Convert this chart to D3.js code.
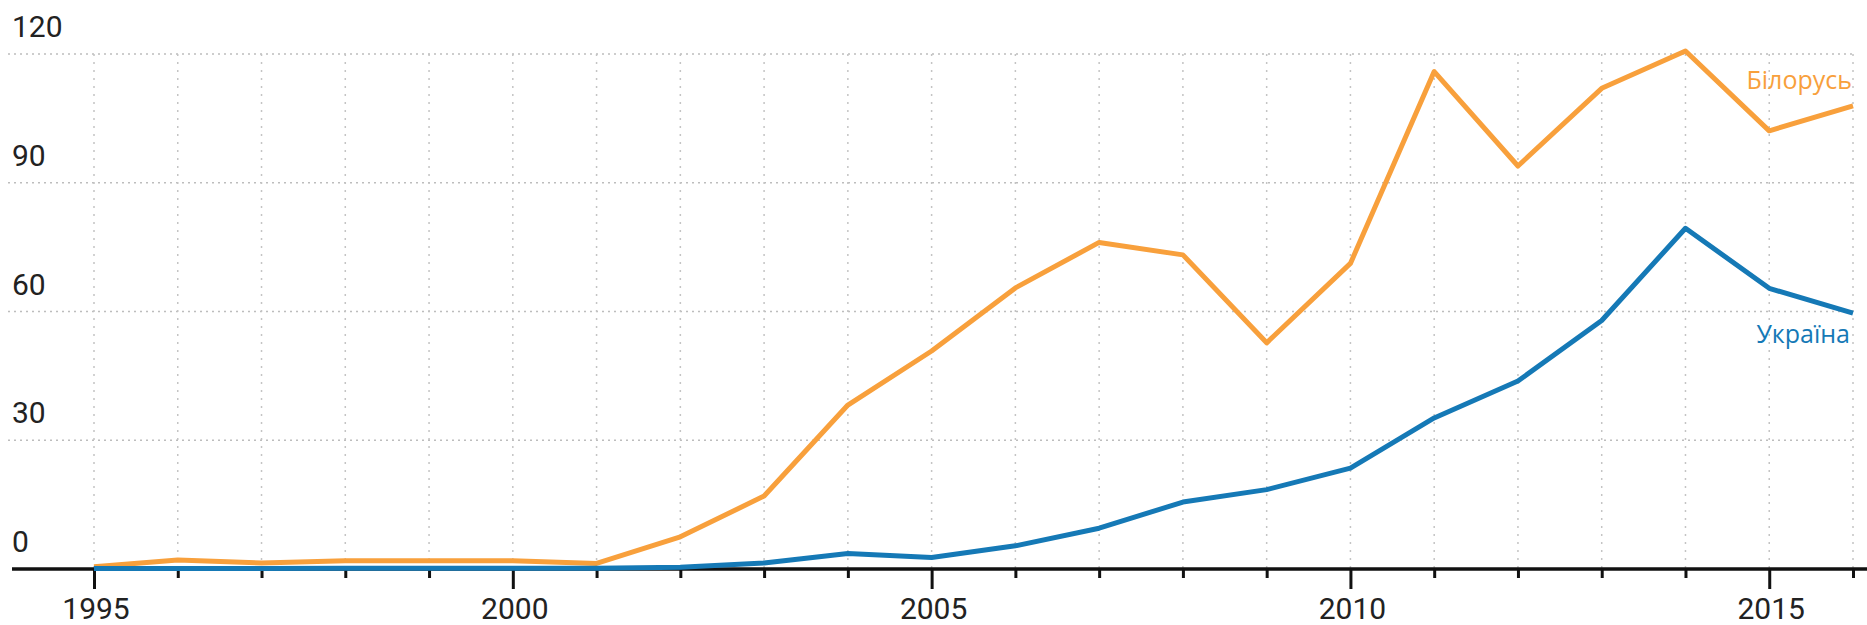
<!DOCTYPE html>
<html>
<head>
<meta charset="utf-8">
<script src="https://cdn.jsdelivr.net/npm/d3@7"></script>
<style>
  body { margin: 0; background: #fff; }
  svg { display: block; }
  .tick-label { font-family: Roboto, sans-serif; font-size: 30px; fill: #222; }
  .series-label { font-family: "Open Sans", sans-serif; font-size: 25px; }
</style>
</head>
<body>
<svg width="1867" height="625"></svg>
<script>
var years = d3.range(1995, 2017);
var belarus = [0.5, 2.1, 1.4, 1.9, 1.9, 1.9, 1.3, 7.5, 17.0, 38.2, 50.8, 65.5, 76.1, 73.2, 52.7, 71.2, 115.9, 93.9, 112.0, 120.7, 102.1, 107.9];
var ukraine = [0.1, 0.1, 0.1, 0.2, 0.2, 0.2, 0.2, 0.4, 1.4, 3.6, 2.7, 5.4, 9.5, 15.6, 18.5, 23.5, 35.2, 43.8, 57.9, 79.4, 65.4, 59.6];
var yTicks = [0, 30, 60, 90, 120];
var xLabels = [1995, 2000, 2005, 2010, 2015];

var svg = d3.select("svg"),
  width = +svg.attr("width"),
  height = +svg.attr("height");

var x = d3.scaleLinear().domain([1995, 2016]).range([94, 1853]);
var y = d3.scaleLinear().domain([0, 120]).range([569, 54]);

var orange = "#f8a03c", blue = "#1579b6";

// horizontal grid
svg.append("g")
  .selectAll("line")
  .data(yTicks.filter(function(d) { return d > 0; }))
  .enter().append("line")
  .attr("x1", 8).attr("x2", x(2016))
  .attr("y1", function(d) { return y(d); })
  .attr("y2", function(d) { return y(d); })
  .attr("stroke", "#bdbdbd").attr("stroke-width", 1.5)
  .attr("stroke-dasharray", "2,4");

// vertical grid
svg.append("g")
  .selectAll("line")
  .data(years)
  .enter().append("line")
  .attr("x1", function(d) { return x(d); })
  .attr("x2", function(d) { return x(d); })
  .attr("y1", y(120)).attr("y2", y(0))
  .attr("stroke", "#c4c4c4").attr("stroke-width", 1.5)
  .attr("stroke-dasharray", "2,6");

// y labels
svg.append("g")
  .selectAll("text")
  .data(yTicks)
  .enter().append("text")
  .attr("class", "tick-label")
  .attr("x", 12)
  .attr("y", function(d) { return y(d) - 17; })
  .text(function(d) { return d; });

// x axis
var xAxis = d3.axisBottom(x)
  .tickValues(years)
  .tickSize(8)
  .tickFormat("");
var ax = svg.append("g").attr("transform", "translate(0," + y(0) + ")").call(xAxis);
ax.select(".domain").remove();
ax.selectAll(".tick line")
  .attr("stroke", "#111").attr("stroke-width", 3)
  .attr("y2", function(d) { return d % 5 === 0 ? 20 : 9; });

svg.append("line")
  .attr("x1", 12).attr("x2", width)
  .attr("y1", y(0)).attr("y2", y(0))
  .attr("stroke", "#111").attr("stroke-width", 3.5);

svg.append("g")
  .selectAll("text")
  .data(xLabels)
  .enter().append("text")
  .attr("class", "tick-label")
  .attr("text-anchor", "middle")
  .attr("x", function(d) { return x(d) + 2; })
  .attr("y", 619)
  .text(function(d) { return d; });

var line = d3.line()
  .x(function(d, i) { return x(years[i]); })
  .y(function(d) { return y(d); });

svg.append("path")
  .datum(belarus)
  .attr("fill", "none")
  .attr("stroke", orange)
  .attr("stroke-width", 5)
  .attr("stroke-linejoin", "round")
  .attr("d", line);

svg.append("path")
  .datum(ukraine)
  .attr("fill", "none")
  .attr("stroke", blue)
  .attr("stroke-width", 5)
  .attr("stroke-linejoin", "round")
  .attr("d", line);

svg.append("text")
  .attr("class", "series-label")
  .attr("x", 1852).attr("y", 89)
  .attr("text-anchor", "end")
  .attr("fill", orange)
  .text("Білорусь");

svg.append("text")
  .attr("class", "series-label")
  .attr("x", 1850).attr("y", 343)
  .attr("text-anchor", "end")
  .attr("fill", blue)
  .text("Україна");
</script>
</body>
</html>
